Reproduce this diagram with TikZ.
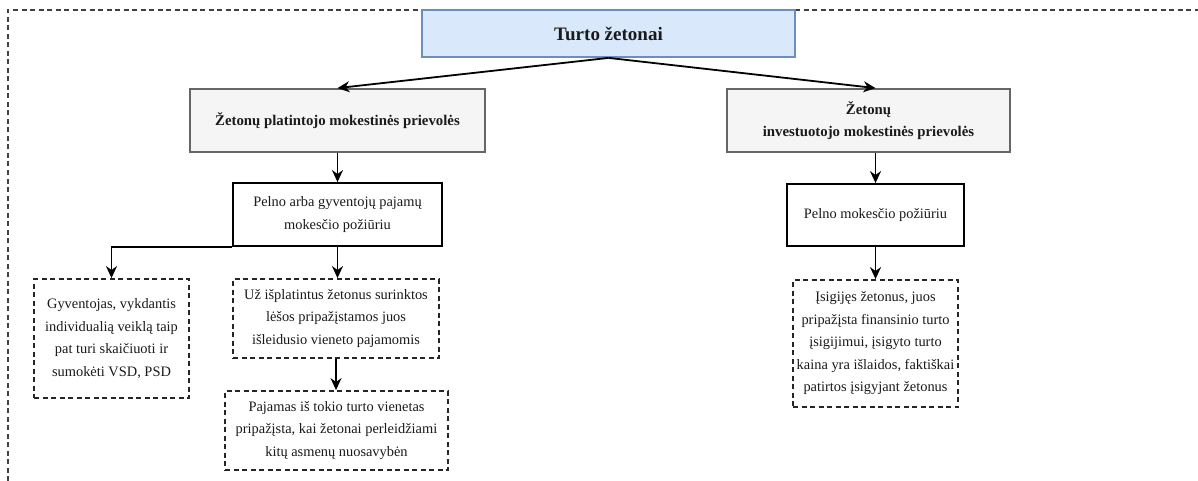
\documentclass[tikz,border=0pt]{standalone}
\usepackage{fontspec}
\setmainfont{Liberation Serif}
\usetikzlibrary{arrows.meta}
\definecolor{topfill}{HTML}{DAE8FC}
\definecolor{topline}{HTML}{6C8EBF}
\definecolor{greyfill}{HTML}{F5F5F5}
\definecolor{greyline}{HTML}{666666}
\definecolor{txt}{HTML}{1A1A1A}
\tikzset{
  box/.style={draw=black, line width=1.8pt, align=center, inner sep=2pt,
    font=\fontsize{14.4}{22.5}\selectfont, text=txt},
  headbox/.style={box, draw=greyline, fill=greyfill, font=\bfseries\fontsize{14.8}{22.5}\selectfont},
  notebox/.style={box, dash pattern=on 5pt off 3.5pt, draw=black!85},
  link/.style={line width=1.8pt, -{Stealth[length=12pt,width=11pt]}},
}
\begin{document}
\begin{tikzpicture}[x=1pt,y=-1pt]
\useasboundingbox (0,0) rectangle (1198,481);
\fill[white] (0,0) rectangle (1198,481);

% frame around the chart
\draw[line width=1.8pt, draw=black!75, dash pattern=on 5pt off 3.5pt] (8,481) -- (8,10) -- (1198,10);

% top level
\node[box, draw=topline, fill=topfill, minimum width=373pt, minimum height=47pt,
  font=\bfseries\fontsize{19}{22}\selectfont] (top) at (608.5,33.5) {Turto žetonai};

% second level
\node[headbox, minimum width=295pt, minimum height=63pt] (l1) at (337.5,120.5)
  {Žetonų platintojo mokestinės prievolės};
\node[headbox, minimum width=283pt, minimum height=63pt] (r1) at (868.5,120.5)
  {Žetonų\\investuotojo mokestinės prievolės};

% third level
\node[box, minimum width=209pt, minimum height=63pt] (p1) at (337.5,214.5)
  {Pelno arba gyventojų pajamų\\mokesčio požiūriu};
\node[box, minimum width=177pt, minimum height=62pt] (p2) at (875.5,215)
  {Pelno mokesčio požiūriu};

% notes
\node[notebox, minimum width=155pt, minimum height=119pt] (d1) at (111.5,338.5)
  {Gyventojas, vykdantis\\individualią veiklą taip\\pat turi skaičiuoti ir\\sumokėti VSD, PSD};
\node[notebox, minimum width=206pt, minimum height=79pt] (d2) at (336,318.5)
  {Už išplatintus žetonus surinktos\\lėšos pripažįstamos juos\\išleidusio vieneto pajamomis};
\node[notebox, minimum width=223pt, minimum height=79pt] (d3) at (336.5,430.5)
  {Pajamas iš tokio turto vienetas\\pripažįsta, kai žetonai perleidžiami\\kitų asmenų nuosavybėn};
\node[notebox, minimum width=165pt, minimum height=127pt] (d4) at (875.5,343.5)
  {Įsigijęs žetonus, juos\\pripažįsta finansinio turto\\įsigijimui, įsigyto turto\\kaina yra išlaidos, faktiškai\\patirtos įsigyjant žetonus};

% connectors
\draw[link] (top.south) -- (l1.north);
\draw[link] (top.south) -- (p2.north |- r1.north);
\draw[link] (l1.south) -- (p1.north);
\draw[link] (p2.north |- r1.south) -- (p2.north);
\draw[link] (p1.south west) -| (d1.north);
\draw[link] (p1.south) -- (p1.south |- d2.north);
\draw[link] (d2.south) -- (d2.south |- d3.north);
\draw[link] (p2.south) -- (p2.south |- d4.north);
\end{tikzpicture}
\end{document}
